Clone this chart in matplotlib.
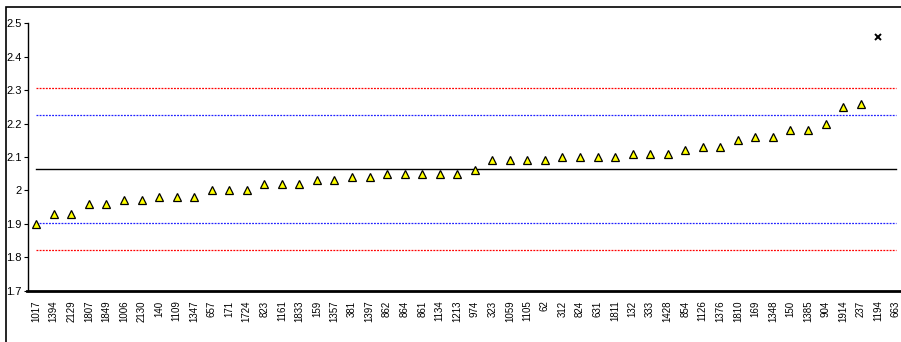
import numpy as np
import matplotlib.pyplot as plt
from matplotlib.patches import Rectangle

plt.rcParams['font.family'] = ['Liberation Sans', 'DejaVu Sans']

# lab ids, sorted by result
labs = ['1017', '1394', '2129', '1807', '1849', '1006', '2130', '140', '1109', '1347',
        '657', '171', '1724', '823', '1161', '1833', '159', '1357', '381', '1397',
        '862', '864', '861', '1134', '1213', '974', '323', '1059', '1105', '62',
        '312', '824', '631', '1811', '132', '333', '1428', '854', '1126', '1376',
        '1810', '169', '1348', '150', '1385', '904', '1914', '237', '1194', '663']

# results (triangles); nan = not plotted as a triangle
results = [1.90, 1.93, 1.93, 1.96, 1.96, 1.97, 1.97, 1.98, 1.98, 1.98,
           2.00, 2.00, 2.00, 2.02, 2.02, 2.02, 2.03, 2.03, 2.04, 2.04,
           2.05, 2.05, 2.05, 2.05, 2.05, 2.06, 2.09, 2.09, 2.09, 2.09,
           2.10, 2.10, 2.10, 2.10, 2.11, 2.11, 2.11, 2.12, 2.13, 2.13,
           2.15, 2.16, 2.16, 2.18, 2.18, 2.20, 2.25, 2.26, np.nan, np.nan]

# outliers (x marker)
outlier_lab = '1194'
outlier_val = 2.46

mean_val = 2.064
lower_2s, upper_2s = 1.903, 2.227
lower_3s, upper_3s = 1.821, 2.306

W, H = 901, 342
fig = plt.figure(figsize=(W / 100, H / 100), dpi=100)

# chart area border
fig.patches.append(Rectangle((6 / W, 0 - 0.01), 1.05, 1 - 7 / H + 0.01,
                             transform=fig.transFigure, fill=False,
                             edgecolor='black', linewidth=1.2))

ax = fig.add_axes([27.5 / W, 51.3 / H, 877 / W, 267.4 / H])

x = np.arange(len(labs))
n = len(labs)

ax.plot(x, [upper_3s] * n, color='red', linestyle=(0, (1.5, 1)), linewidth=0.9)
ax.plot(x, [lower_3s] * n, color='red', linestyle=(0, (1.5, 1)), linewidth=0.9)
ax.plot(x, [upper_2s] * n, color='#2020ff', linestyle=(0, (1.5, 1)), linewidth=0.9)
ax.plot(x, [lower_2s] * n, color='#2020ff', linestyle=(0, (1.5, 1)), linewidth=0.9)
ax.plot(x, [mean_val] * n, color='black', linewidth=1.0)

ax.plot(x, results, linestyle='none', marker='^', markersize=5.5,
        markerfacecolor='#FFFF00', markeredgecolor='black', markeredgewidth=0.9)
ax.plot([labs.index(outlier_lab)], [outlier_val], linestyle='none', marker='x',
        markersize=4.5, color='black', markeredgewidth=1.4)

ax.set_xlim(-0.5, n - 0.5)
ax.set_ylim(1.7, 2.5)
ax.set_yticks([1.7, 1.8, 1.9, 2.0, 2.1, 2.2, 2.3, 2.4, 2.5])
ax.set_yticklabels(['1.7', '1.8', '1.9', '2', '2.1', '2.2', '2.3', '2.4', '2.5'])
ax.set_xticks(x)
ax.set_xticklabels(labs, rotation=90)

ax.tick_params(axis='y', direction='out', length=3, width=0.8, labelsize=8, pad=1)
ax.tick_params(axis='x', length=0, labelsize=7, pad=7)

for s in ['top', 'right']:
    ax.spines[s].set_visible(False)
ax.spines['left'].set_linewidth(1.0)
ax.spines['bottom'].set_linewidth(2.0)

fig.savefig('out.png', dpi=100)
